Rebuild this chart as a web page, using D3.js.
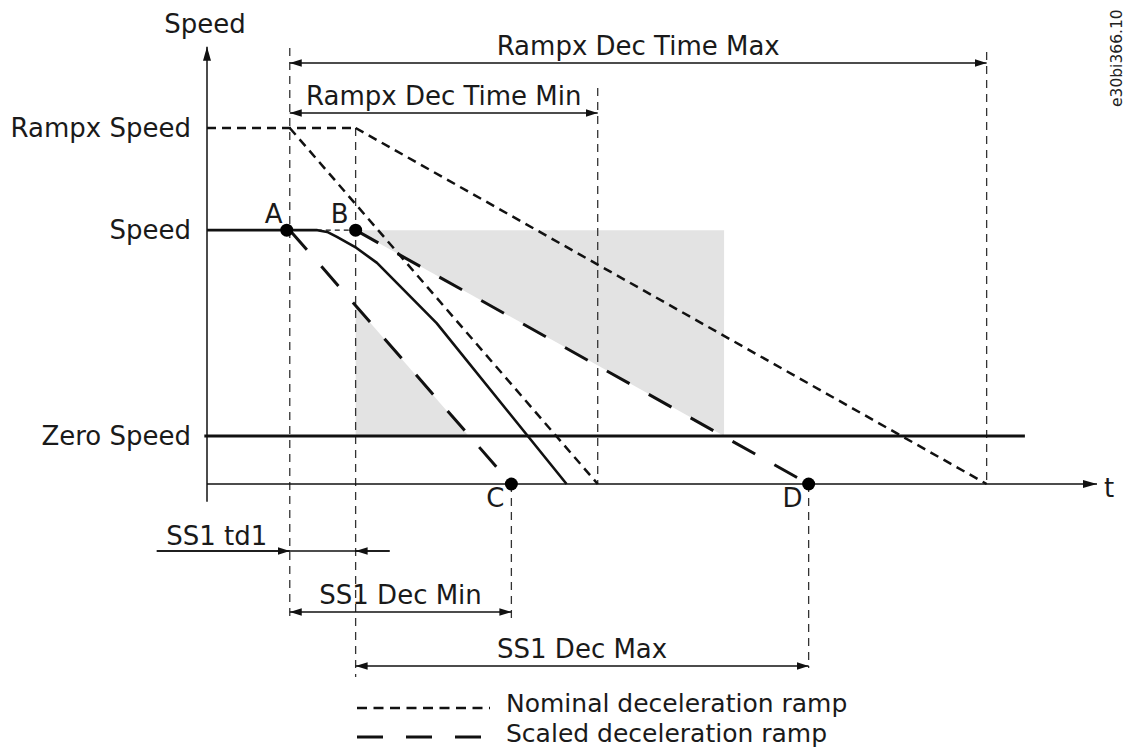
<!DOCTYPE html>
<html>
<head>
<meta charset="utf-8">
<script src="https://cdn.jsdelivr.net/npm/d3@7/dist/d3.min.js"></script>
<style>
  body { margin: 0; background: #fff; }
  text { font-family: "DejaVu Sans", Verdana, sans-serif; fill: #1a1a1a; }
</style>
</head>
<body>
<div id="chart"></div>
<script>
// Time runs 0..1000 along the t axis, speed is in % of Rampx Speed.
var levelNames = ['Rampx Speed', 'Speed', 'Zero Speed'];
var levelValues = [100, 71.3, 13.5];

var pointNames = ['A', 'B', 'C', 'D'];
var pointTimes = [93, 167, 342, 676];
var pointSpeeds = [71.3, 71.3, 0, 0];

// Actual speed as it drops away after B
var speedCurveT = [0, 124, 135, 146, 168, 191, 258, 404];
var speedCurveV = [71.3, 71.3, 70.8, 69.4, 66.3, 62.1, 45.2, 0];

// Nominal ramps start at Rampx Speed, scaled ramps at Speed
var nominalStartT = [93, 167];
var nominalEndT = [439, 876];
var scaledStartT = [93, 167];
var scaledEndT = [342, 676];

// Grey permitted areas
var shadeUpper = [[167, 71.3], [581, 71.3], [581, 13.5]];
var shadeLower = [[167, 50], [167, 13.5], [294, 13.5]];

var spanLabels = ['Rampx Dec Time Max', 'Rampx Dec Time Min', 'SS1 Dec Min', 'SS1 Dec Max'];
var spanStart = [93, 93, 93, 167];
var spanEnd = [876, 439, 342, 676];

var td1Label = 'SS1 td1';
var td1Start = 93;
var td1End = 167;

var guideTimes = [93, 167, 439, 876, 342, 676];

var legendLabels = ['Nominal deceleration ramp', 'Scaled deceleration ramp'];

var timeAxisEnd = 1000;
var zeroLineEnd = 919;
var speedAxisTop = 122.8;

function createChart() {
  var canvasWidth = 1142;
  var canvasHeight = 747;

  var svg = d3.select('#chart')
    .append('svg')
    .attr('width', canvasWidth)
    .attr('height', canvasHeight);

  var defs = svg.append('defs');

  // small arrow for dimension lines, bigger one for the axes
  defs.append('marker')
    .attr('id', 'dim-arrow')
    .attr('markerUnits', 'userSpaceOnUse')
    .attr('markerWidth', 13)
    .attr('markerHeight', 8)
    .attr('refX', 12)
    .attr('refY', 3.75)
    .attr('orient', 'auto-start-reverse')
    .append('path')
    .attr('d', 'M0,0 L12,3.75 L0,7.5 Z')
    .attr('fill', '#111');

  defs.append('marker')
    .attr('id', 'axis-arrow')
    .attr('markerUnits', 'userSpaceOnUse')
    .attr('markerWidth', 15)
    .attr('markerHeight', 9)
    .attr('refX', 14)
    .attr('refY', 4)
    .attr('orient', 'auto')
    .append('path')
    .attr('d', 'M0,0 L14,4 L0,8 Z')
    .attr('fill', '#111');

  return svg;
}

function renderDiagram(svg) {
  var x = d3.scaleLinear().domain([0, timeAxisEnd]).range([207, 1097]);
  var y = d3.scaleLinear().domain([0, 100]).range([484, 128]);

  var line = d3.line()
    .x(d => x(d[0]))
    .y(d => y(d[1]));

  // Shaded areas first so everything else sits on top
  svg.selectAll('path.shade')
    .data([shadeUpper, shadeLower])
    .enter()
    .append('path')
    .attr('class', 'shade')
    .attr('d', d => line(d) + 'Z')
    .style('fill', '#e3e3e3');

  // Thin dashed guide lines
  var guideExtents = [[48, 617], [y(100), 677], [88, y(0)], [52, y(0)], [y(0), 620], [y(0), 668]];
  svg.selectAll('line.guide')
    .data(guideTimes)
    .enter()
    .append('line')
    .attr('class', 'guide')
    .attr('x1', d => x(d))
    .attr('x2', d => x(d))
    .attr('y1', (d, i) => guideExtents[i][0])
    .attr('y2', (d, i) => guideExtents[i][1])
    .style('stroke', '#333')
    .style('stroke-width', 1.3)
    .style('stroke-dasharray', '8,6');

  // Axes
  svg.append('line')
    .attr('x1', x(0)).attr('x2', x(0))
    .attr('y1', y(-5)).attr('y2', y(speedAxisTop))
    .attr('marker-end', 'url(#axis-arrow)')
    .style('stroke', '#111')
    .style('stroke-width', 1.5);

  svg.append('line')
    .attr('x1', x(0)).attr('x2', x(timeAxisEnd))
    .attr('y1', y(0)).attr('y2', y(0))
    .attr('marker-end', 'url(#axis-arrow)')
    .style('stroke', '#111')
    .style('stroke-width', 1.5);

  svg.append('text')
    .attr('x', x(0) - 2)
    .attr('y', 33)
    .attr('text-anchor', 'middle')
    .style('font-size', '26px')
    .text('Speed');

  svg.append('text')
    .attr('x', x(timeAxisEnd) + 7)
    .attr('y', y(0) + 13)
    .style('font-size', '26px')
    .text('t');

  // Level labels on the speed axis
  svg.selectAll('text.level')
    .data(levelNames)
    .enter()
    .append('text')
    .attr('class', 'level')
    .attr('x', x(0) - 16)
    .attr('y', (d, i) => y(levelValues[i]) + 9)
    .attr('text-anchor', 'end')
    .style('font-size', '26px')
    .text(d => d);

  // Rampx Speed up to B, and a fine dashed link from A to B
  svg.append('path')
    .attr('d', line([[0, levelValues[0]], [pointTimes[1], levelValues[0]]]))
    .style('fill', 'none')
    .style('stroke', '#111')
    .style('stroke-width', 2.5)
    .style('stroke-dasharray', '9,6');

  svg.append('path')
    .attr('d', line([[pointTimes[0], levelValues[1]], [pointTimes[1], levelValues[1]]]))
    .style('fill', 'none')
    .style('stroke', '#111')
    .style('stroke-width', 1.3)
    .style('stroke-dasharray', '5,4');

  // Zero Speed threshold
  svg.append('path')
    .attr('d', line([[-3, levelValues[2]], [zeroLineEnd, levelValues[2]]]))
    .style('fill', 'none')
    .style('stroke', '#111')
    .style('stroke-width', 3);

  // Nominal ramps
  svg.selectAll('path.nominal')
    .data(nominalStartT)
    .enter()
    .append('path')
    .attr('class', 'nominal')
    .attr('d', (d, i) => line([[d, levelValues[0]], [nominalEndT[i], 0]]))
    .style('fill', 'none')
    .style('stroke', '#111')
    .style('stroke-width', 2.5)
    .style('stroke-dasharray', '9,6');

  // Scaled ramps
  svg.selectAll('path.scaled')
    .data(scaledStartT)
    .enter()
    .append('path')
    .attr('class', 'scaled')
    .attr('d', (d, i) => line([[d, levelValues[1]], [scaledEndT[i], 0]]))
    .style('fill', 'none')
    .style('stroke', '#111')
    .style('stroke-width', 3)
    .style('stroke-dasharray', '26,22');

  // Actual speed
  svg.append('path')
    .attr('d', line(speedCurveT.map((t, i) => [t, speedCurveV[i]])))
    .style('fill', 'none')
    .style('stroke', '#111')
    .style('stroke-width', 2.6)
    .style('stroke-linejoin', 'round');

  // Points A-D
  var points = svg.selectAll('g.point')
    .data(pointNames)
    .enter()
    .append('g')
    .attr('class', 'point');

  points.append('circle')
    .attr('cx', (d, i) => x(pointTimes[i]) - (i === 0 ? 3 : 0))
    .attr('cy', (d, i) => y(pointSpeeds[i]))
    .attr('r', 6.5)
    .style('fill', '#000');

  points.append('text')
    .attr('x', (d, i) => x(pointTimes[i]) - 16)
    .attr('y', (d, i) => i < 2 ? y(pointSpeeds[i]) - 7 : y(pointSpeeds[i]) + 23)
    .attr('text-anchor', 'middle')
    .style('font-size', '26px')
    .text(d => d);

  // Dimension arrows with their titles
  var spanRows = [63, 113, 612, 666];
  var spans = svg.selectAll('g.span')
    .data(spanLabels)
    .enter()
    .append('g')
    .attr('class', 'span');

  spans.append('line')
    .attr('x1', (d, i) => x(spanStart[i]))
    .attr('x2', (d, i) => x(spanEnd[i]))
    .attr('y1', (d, i) => spanRows[i])
    .attr('y2', (d, i) => spanRows[i])
    .attr('marker-start', 'url(#dim-arrow)')
    .attr('marker-end', 'url(#dim-arrow)')
    .style('stroke', '#111')
    .style('stroke-width', 1.5);

  spans.append('text')
    .attr('x', (d, i) => (x(spanStart[i]) + x(spanEnd[i])) / 2)
    .attr('y', (d, i) => spanRows[i] - 8)
    .attr('text-anchor', 'middle')
    .style('font-size', '26px')
    .text(d => d);

  // SS1 td1: arrows pointing inwards from both sides
  var td1Row = 551;
  svg.append('line')
    .attr('x1', x(td1Start) - 133).attr('x2', x(td1End) + 34)
    .attr('y1', td1Row).attr('y2', td1Row)
    .style('stroke', '#111')
    .style('stroke-width', 1.5);

  svg.selectAll('line.td1')
    .data([[x(td1Start) - 133, x(td1Start)], [x(td1End) + 34, x(td1End)]])
    .enter()
    .append('line')
    .attr('class', 'td1')
    .attr('x1', d => d[0]).attr('x2', d => d[1])
    .attr('y1', td1Row).attr('y2', td1Row)
    .attr('marker-end', 'url(#dim-arrow)')
    .style('stroke', '#111')
    .style('stroke-width', 1.5);

  svg.append('text')
    .attr('x', x(td1Start) - 73)
    .attr('y', td1Row - 6)
    .attr('text-anchor', 'middle')
    .style('font-size', '26px')
    .text(td1Label);

  // Legend
  var legendDash = ['10,6.5', '26,23'];
  var legendWidth = [2.6, 3];
  var legendRows = [708, 737];
  var legend = svg.selectAll('g.legend')
    .data(legendLabels)
    .enter()
    .append('g')
    .attr('class', 'legend');

  legend.append('line')
    .attr('x1', 357).attr('x2', 490)
    .attr('y1', (d, i) => legendRows[i])
    .attr('y2', (d, i) => legendRows[i])
    .style('stroke', '#111')
    .style('stroke-width', (d, i) => legendWidth[i])
    .style('stroke-dasharray', (d, i) => legendDash[i]);

  legend.append('text')
    .attr('x', 506)
    .attr('y', (d, i) => legendRows[i] + (i === 0 ? 4 : 5))
    .style('font-size', '25px')
    .text(d => d);

  // Drawing reference in the corner
  svg.append('text')
    .attr('transform', 'translate(1122,107) rotate(-90)')
    .style('font-size', '15.5px')
    .style('fill', '#222')
    .text('e30bi366.10');
}

function init() {
  var svg = createChart();
  renderDiagram(svg);
}

window.onload = init;
</script>
</body>
</html>
